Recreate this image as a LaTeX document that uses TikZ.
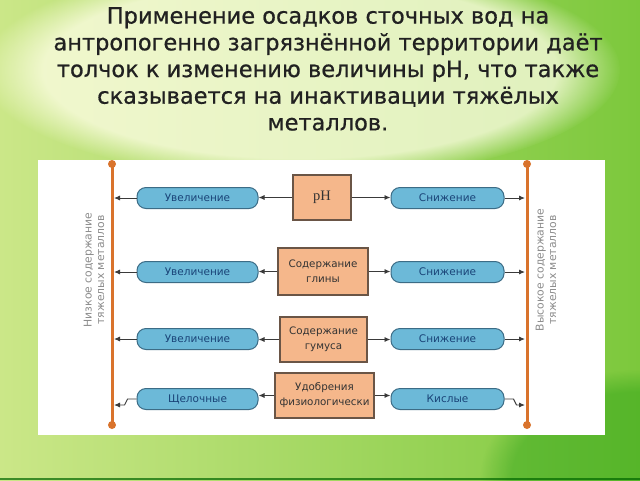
\documentclass[tikz,border=0pt]{standalone}
\usepackage{fontspec}
\setmainfont{DejaVu Sans}
\newfontfamily\titlefont[FakeBold=0.7]{DejaVu Sans}
\newfontfamily\pHfont{Liberation Serif}
\usetikzlibrary{arrows.meta,fadings}
\definecolor{bgL}{HTML}{CBE788}
\definecolor{bgR}{HTML}{7CC83C}
\definecolor{blueF}{HTML}{6CB9D8}
\definecolor{blueD}{HTML}{3C6C86}
\definecolor{blueT}{HTML}{1A4478}
\definecolor{orF}{HTML}{F5B78B}
\definecolor{orD}{HTML}{6A5546}
\definecolor{vline}{HTML}{D9732C}
\definecolor{conC}{HTML}{3A3A3A}
\tikzset{
  blueb/.style={draw=blueD, line width=1pt, fill=blueF, rounded corners=9pt,
    minimum height=21pt, inner sep=0pt, text=blueT, font=\fontsize{10.5}{12}\selectfont},
  orb/.style={draw=orD, line width=1.2pt, fill=orF, inner sep=0pt, align=center,
    text=black!80, font=\fontsize{10.3}{15}\selectfont},
  conn/.style={draw=conC, line width=0.9pt, -{Latex[length=6pt,width=5pt]}},
  vlab/.style={rotate=90, text=black!45, align=center, font=\fontsize{10.8}{12.5}\selectfont},
  vln/.style={vline, line width=3pt},
  dotv/.style={fill=vline}
}
\begin{document}
\begin{tikzpicture}[x=1pt,y=-1pt]
\useasboundingbox (0,0) rectangle (640,480);
% background
\shade[left color=bgL, right color=bgR] (0,0) rectangle (640,480);
\fill[white!90!yellow, path fading=circle with fuzzy edge 20 percent, opacity=0.75] (300,70) ellipse (320 and 110);
\fill[green!55!black, opacity=0.3, path fading=circle with fuzzy edge 20 percent] (640,480) ellipse (160 and 110);
\fill[green!40!black, opacity=0.7] (0,478) rectangle (640,480);
% title
\node[anchor=north, inner sep=0pt, align=center, text=black!87, font=\titlefont\fontsize{22.5}{26.7}\selectfont] (title) at (328,7)
 {Применение осадков сточных вод на\\антропогенно загрязнённой территории даёт\\толчок к изменению величины pH, что также\\сказывается на инактивации тяжёлых\\металлов.};
% panel
\fill[white] (38,160) rectangle (605,435);
% vertical lines
\coordinate (LT) at (112,164); \coordinate (LB) at (112,425);
\coordinate (RT) at (527,164); \coordinate (RB) at (527,425);
\draw[vln] (LT) -- (LB);
\draw[vln] (RT) -- (RB);
\fill[dotv] (LT) circle (4); \fill[dotv] (LB) circle (4);
\fill[dotv] (RT) circle (4); \fill[dotv] (RB) circle (4);
% vertical labels
\node[vlab] (labL) at (94,270) {Низкое содержание\\тяжелых металлов};
\node[vlab] (labR) at (546,270) {Высокое содержание\\тяжелых металлов};
% center boxes
\node[orb, minimum width=58pt, minimum height=45pt] (c1) at (322,197.5) {\pHfont\fontsize{14.5}{16}\selectfont pH};
\node[orb, minimum width=90pt, minimum height=47pt] (c2) at (323,271.5) {Содержание\\глины};
\node[orb, minimum width=87pt, minimum height=45pt] (c3) at (323.5,339.5) {Содержание\\гумуса};
\node[orb, minimum width=99pt, minimum height=45pt] (c4) at (324.5,395.5) {Удобрения\\физиологически};
% left boxes
\node[blueb, minimum width=121pt] (l1) at (197.5,198) {Увеличение};
\node[blueb, minimum width=121pt] (l2) at (197.5,272) {Увеличение};
\node[blueb, minimum width=121pt] (l3) at (197.5,339) {Увеличение};
\node[blueb, minimum width=121pt] (l4) at (197.5,399) {Щелочные};
% right boxes
\node[blueb, minimum width=113pt] (r1) at (447.5,198) {Снижение};
\node[blueb, minimum width=113pt] (r2) at (447.5,272) {Снижение};
\node[blueb, minimum width=113pt] (r3) at (447.5,339) {Снижение};
\node[blueb, minimum width=113pt] (r4) at (447.5,399) {Кислые};
% line coordinates
\coordinate (pl1) at (114,198); \coordinate (pr1) at (525,198);
\coordinate (pl2) at (114,272); \coordinate (pr2) at (525,272);
\coordinate (pl3) at (114,339); \coordinate (pr3) at (525,339);
\coordinate (pl4) at (114,405); \coordinate (pr4) at (525,405);
% connectors
\foreach \i in {1,2,3,4}{
  \draw[conn] (c\i.west) -- (l\i.east |- c\i.west) ;
  \draw[conn] (c\i.east) -- (r\i.west |- c\i.east) ;
}
\foreach \i in {1,2,3}{
  \draw[conn] (l\i.west) -- (pl\i);
  \draw[conn] (r\i.east) -- (pr\i);
}
\draw[conn] (l4.west) -- ++(-9,0) -- ++(-3,6) -- (pl4);
\draw[conn] (r4.east) -- ++(9,0) -- ++(3,6) -- (pr4);
\end{tikzpicture}
\end{document}
